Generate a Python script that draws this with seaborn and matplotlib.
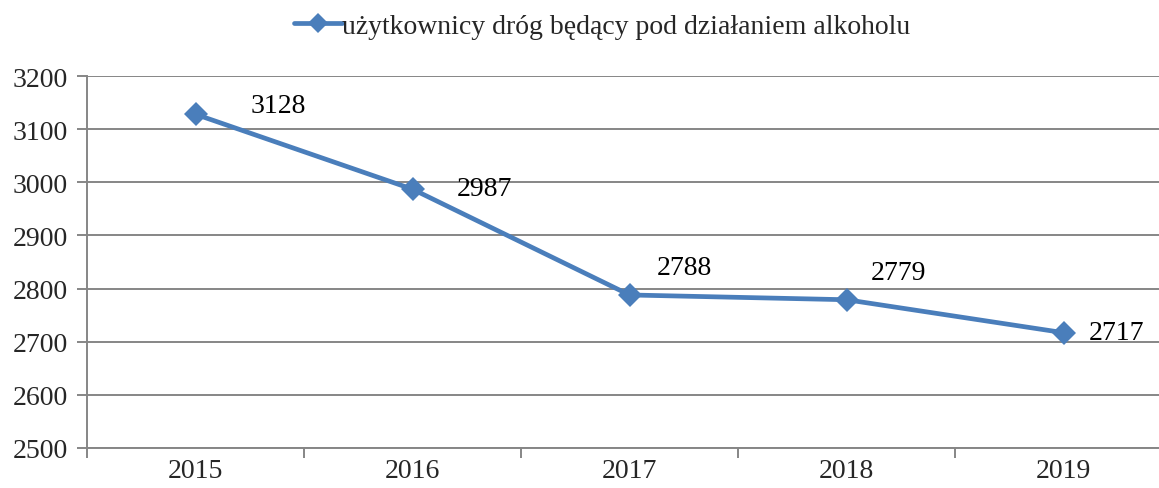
import numpy as np
import pandas as pd
import matplotlib
matplotlib.use('Agg')
import matplotlib.pyplot as plt
import seaborn as sns

sns.set_style('white')
plt.rcParams['font.family'] = ['Liberation Serif', 'DejaVu Serif']

# ---- data ----
years = ['2015', '2016', '2017', '2018', '2019']
values = [3128, 2987, 2788, 2779, 2717]
series_name = 'użytkownicy dróg będący pod działaniem alkoholu'

# label offsets in pixels (dx, dy), as placed in the original
label_offsets = [(83, 9), (72, 1), (55, 27), (52, 27), (53, 0)]

df = pd.DataFrame({'pos': np.arange(len(years)), 'value': values})

LINE = '#4A7EBB'
GRID = '#868686'

fig = plt.figure(figsize=(11.59, 4.89), dpi=100)
# the plot area runs a bit past the right edge of the picture, as in the original
ax = fig.add_axes([0.0751, 0.0818, 0.9362, 0.7607])

sns.lineplot(data=df, x='pos', y='value', ax=ax, color=LINE, linewidth=3.4,
             marker='D', markersize=12.5, markeredgewidth=0, label=series_name)

for i, v in enumerate(values):
    dx, dy = label_offsets[i]
    ax.annotate(str(v), (i, v), xytext=(dx * 0.72, dy * 0.72), textcoords='offset points',
                ha='center', va='center', fontsize=20, color='black')

ax.set_ylim(2500, 3200)
ax.set_yticks(range(2500, 3201, 100))
ax.set_xlim(-0.5, len(years) - 0.5)
ax.set_xticks(np.arange(-0.5, len(years), 1.0))
ax.set_xticklabels([])
ax.set_xticks(np.arange(len(years)), minor=True)
ax.set_xticklabels(years, minor=True)
ax.set_xlabel('')
ax.set_ylabel('')

ax.yaxis.grid(True, color=GRID, linewidth=1.4)
ax.xaxis.grid(False)
for side in ['top', 'right']:
    ax.spines[side].set_visible(False)
ax.spines['left'].set_color(GRID)
ax.spines['left'].set_linewidth(1.4)
ax.spines['bottom'].set_color(GRID)
ax.spines['bottom'].set_linewidth(1.4)

ax.tick_params(axis='y', which='major', direction='out', length=7, width=1.4,
               color=GRID, labelsize=20, pad=7, left=True)
ax.tick_params(axis='x', which='major', direction='out', length=7, width=1.4,
               color=GRID, bottom=True)
ax.tick_params(axis='x', which='minor', length=0, labelsize=20, pad=7)

leg = ax.legend(loc='lower center', bbox_to_anchor=(0.4747, 1.07),
                frameon=False, fontsize=20, handlelength=1.75, handletextpad=0.0,
                borderaxespad=0, markerscale=0.8)

fig.savefig('out.png', dpi=100)
